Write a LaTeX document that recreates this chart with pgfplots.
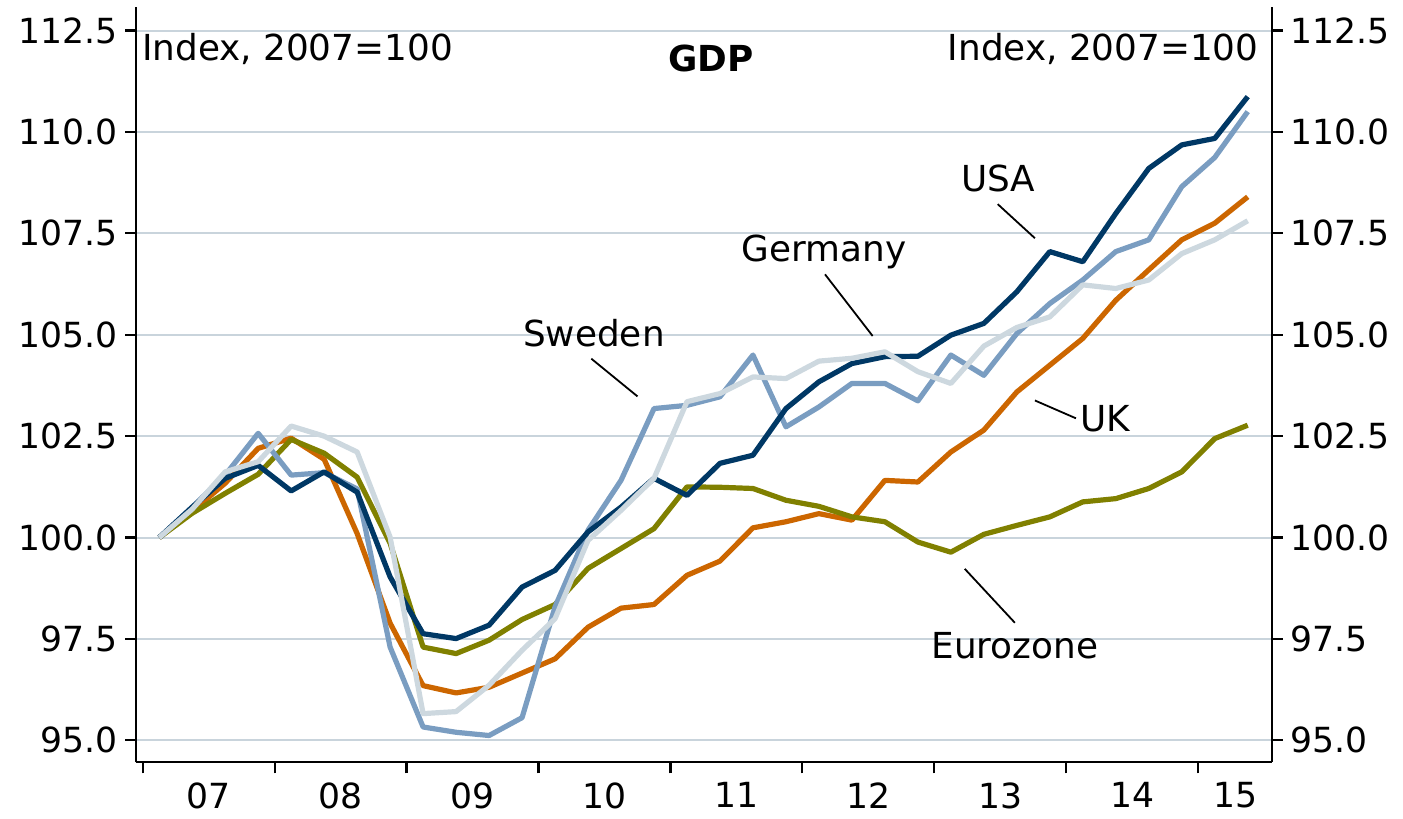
\documentclass[border=0pt]{standalone}
\usepackage{fontspec}
\setmainfont{DejaVu Sans}
\usepackage{pgfplots}
\usepackage{pgfplotstable}
\pgfplotsset{compat=1.18}
\definecolor{cUSA}{HTML}{003865}
\definecolor{cSWE}{HTML}{7A9DC1}
\definecolor{cGER}{HTML}{CDD8DF}
\definecolor{cUK}{HTML}{CC6600}
\definecolor{cEZ}{HTML}{808000}
\definecolor{cGrid}{HTML}{C9D4DC}
\newcommand{\lab}{\fontsize{17.3pt}{20pt}\selectfont}
\newcommand{\txt}{\fontsize{17.9pt}{21pt}\selectfont}
\pgfplotstableread{
x        usa     swe     ger     uk      ez
2007.125 100.00  100.00  100.00  100.00  100.00
2007.375 100.75  100.75  100.70  100.65  100.60
2007.625 101.46  101.54  101.62  101.34  101.09
2007.875 101.78  102.57  101.87  102.20  101.56
2008.125 101.15  101.54  102.75  102.45  102.42
2008.375 101.62  101.60  102.50  101.93  102.08
2008.625 101.12  101.20  102.11  100.10  101.49
2008.875  99.03   97.30  100.01   97.89   99.86
2009.125  97.63   95.33   95.66   96.35   97.30
2009.375  97.51   95.20   95.71   96.17   97.14
2009.625  97.84   95.12   96.36   96.31   97.47
2009.875  98.78   95.56   97.22   96.66   97.98
2010.125  99.19   98.29   98.00   97.01   98.35
2010.375 100.14  100.18   99.93   97.79   99.24
2010.625 100.75  101.41  100.67   98.26   99.73
2010.875 101.46  103.18  101.46   98.35  100.22
2011.125 101.04  103.26  103.35   99.07  101.25
2011.375 101.83  103.47  103.55   99.42  101.24
2011.625 102.03  104.50  103.96  100.24  101.21
2011.875 103.18  102.73  103.92  100.39  100.92
2012.125 103.84  103.22  104.35  100.59  100.77
2012.375 104.29  103.80  104.42  100.43  100.51
2012.625 104.46  103.80  104.58  101.41  100.39
2012.875 104.47  103.37  104.09  101.37   99.89
2013.125 104.99  104.50  103.80  102.11   99.64
2013.375 105.28  104.00  104.72  102.65  100.08
2013.625 106.06  105.03  105.18  103.59  100.30
2013.875 107.05  105.77  105.44  104.25  100.51
2014.125 106.80  106.35  106.23  104.91  100.88
2014.375 107.99  107.05  106.14  105.85  100.96
2014.625 109.10  107.34  106.35  106.60  101.21
2014.875 109.68  108.65  107.00  107.34  101.62
2015.125 109.84  109.37  107.34  107.75  102.44
2015.375 110.87  110.50  107.81  108.40  102.77
}\gdp
\pgfplotsset{
  common/.style={
    scale only axis, width=568pt, height=377.65pt,
    xmin=2006.949, xmax=2015.559, ymin=94.46, ymax=113.08,
    ytick={95,97.5,...,112.5},
    tick label style={font=\lab},
    yticklabel style={/pgf/number format/.cd, fixed, fixed zerofill, precision=1, assume math mode=true},
    tick align=outside, major tick length=5.5pt,
    tick style={line width=1.1pt, black},
    axis line style={line width=1.2pt, black},
  }
}
\begin{document}
\begin{tikzpicture}
\begin{axis}[common,
  axis x line*=bottom, axis y line*=left,
  ymajorgrids, grid style={line width=1pt, cGrid},
  xtick={2007,...,2015}, xticklabels={},
  extra x ticks={2007.5,2008.5,2009.5,2010.5,2011.5,2012.5,2013.5,2014.5,2015.28},
  extra x tick labels={07,08,09,10,11,12,13,14,15},
  extra x tick style={major tick length=0pt, grid=none, xticklabel style={yshift=-6.5pt}},
  every axis plot/.append style={line width=2.6pt, line join=round},
]
\coordinate (BL) at (rel axis cs:0,0);
\coordinate (TR) at (rel axis cs:1,1);
\addplot[cUK, no markers] table[x=x, y=uk] {\gdp};
\addplot[cEZ, no markers] table[x=x, y=ez] {\gdp};
\addplot[cSWE, no markers] table[x=x, y=swe] {\gdp};
\addplot[cUSA, no markers] table[x=x, y=usa] {\gdp};
\addplot[cGER, no markers] table[x=x, y=ger] {\gdp};
\node[anchor=base west, font=\txt, inner sep=0pt] at (axis cs:2006.992,111.76) {Index, 2007=100};
\node[anchor=base east, font=\txt, inner sep=0pt] at (axis cs:2015.46,111.76) {Index, 2007=100};
\node[anchor=base, font=\txt\bfseries, inner sep=0pt] at (axis cs:2011.307,111.48) {GDP};
\node[anchor=base, font=\txt, inner sep=0pt] at (axis cs:2010.42,104.71) {Sweden};
\node[anchor=base, font=\txt, inner sep=0pt] at (axis cs:2012.163,106.80) {Germany};
\node[anchor=base, font=\txt, inner sep=0pt] at (axis cs:2013.484,108.53) {USA};
\node[anchor=base, font=\txt, inner sep=0pt] at (axis cs:2014.297,102.61) {UK};
\node[anchor=base, font=\txt, inner sep=0pt] at (axis cs:2013.61,97.03) {Eurozone};
\draw[line width=0.9pt] (axis cs:2010.40,104.41) -- (axis cs:2010.75,103.48);
\draw[line width=0.9pt] (axis cs:2012.171,106.49) -- (axis cs:2012.532,104.97);
\draw[line width=0.9pt] (axis cs:2013.48,108.22) -- (axis cs:2013.762,107.38);
\draw[line width=0.9pt] (axis cs:2013.762,103.38) -- (axis cs:2014.073,102.94);
\draw[line width=0.9pt] (axis cs:2013.23,99.23) -- (axis cs:2013.61,97.90);
\end{axis}
\begin{axis}[common,
  hide x axis, axis y line*=right,
]
\end{axis}
\pgfresetboundingbox
\path ([xshift=-68pt,yshift=-28.35pt]BL) rectangle ([xshift=65.5pt,yshift=3.5pt]TR);
\end{tikzpicture}
\end{document}
